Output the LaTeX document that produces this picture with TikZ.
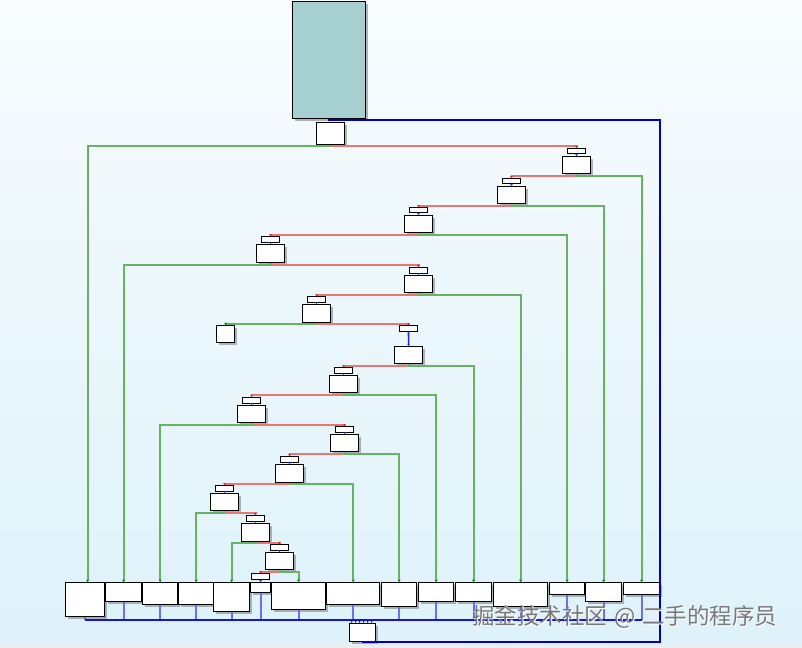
\documentclass[tikz,border=0pt]{standalone}
\usepackage{fontspec}
\newfontfamily\cjk{Noto Sans CJK SC}
\usetikzlibrary{shadows,arrows.meta,calc}
\definecolor{bgtop}{RGB}{248,252,254}
\definecolor{bgbot}{RGB}{222,242,250}
\definecolor{strip}{RGB}{236,239,241}
\definecolor{teal}{RGB}{165,207,208}
\definecolor{redE}{RGB}{232,118,118}
\definecolor{greenE}{RGB}{104,178,104}
\definecolor{blueS}{RGB}{40,40,200}
\definecolor{blueL}{RGB}{110,110,240}
\definecolor{blueD}{RGB}{20,20,220}
\definecolor{loopC}{RGB}{0,0,190}
\definecolor{wmgray}{RGB}{120,120,120}
\tikzset{
  box/.style={draw=black, fill=white, line width=1.3bp, inner sep=0pt, anchor=north west,
    drop shadow={shadow xshift=2.5bp, shadow yshift=-2.5bp, opacity=0.4, fill=black!70}},
  lbl/.style={draw=black, fill=white, line width=1bp, inner sep=0pt, anchor=north west,
    minimum width=18bp, minimum height=5.5bp},
  redline/.style={draw=redE, line width=2bp, -{Stealth[length=2bp,width=2.5bp,color=red!85!black]}},
  greenline/.style={draw=greenE, line width=2bp, -{Stealth[length=2.5bp,width=3bp,color=green!45!black]}},
  shortblue/.style={draw=blueS, line width=1.6bp, -{Stealth[length=2bp,width=2.5bp]}},
  outblue/.style={draw=blueL, line width=1.8bp},
  mergeblue/.style={draw=blueD, line width=2bp},
  loopline/.style={draw=loopC, line width=2bp},
  wm/.style={inner sep=0pt, anchor=west, font=\cjk\fontsize{22.5bp}{24bp}\selectfont}
}
\begin{document}
\begin{tikzpicture}[x=1bp, y=-1bp]
\useasboundingbox (0,0) rectangle (802,648);
\shade[top color=bgtop, bottom color=bgbot] (0,0) rectangle (802,643);
\fill[strip] (0,643) rectangle (802,648);

% top block
\node[box, fill=teal, minimum width=73bp, minimum height=117bp] (top) at (292,1) {};

% decision nodes
\node[box, minimum width=28bp, minimum height=22bp] (n0) at (316,122) {};
\node[box, minimum width=28bp, minimum height=17bp] (n1) at (562,156) {};
\node[box, minimum width=28bp, minimum height=17bp] (n2) at (497,186) {};
\node[box, minimum width=28bp, minimum height=17bp] (n3) at (404,215) {};
\node[box, minimum width=28bp, minimum height=18bp] (n4) at (256,244) {};
\node[box, minimum width=28bp, minimum height=17bp] (n5) at (404,275) {};
\node[box, minimum width=28bp, minimum height=18bp] (n6) at (302,304) {};
\node[box, minimum width=18bp, minimum height=17bp] (leaf) at (216,325) {};
\node[box, minimum width=28bp, minimum height=17bp] (n7) at (394,346) {};
\node[box, minimum width=28bp, minimum height=17bp] (n8) at (329,375) {};
\node[box, minimum width=28bp, minimum height=17bp] (n9) at (237,405) {};
\node[box, minimum width=28bp, minimum height=17bp] (n10) at (330,434) {};
\node[box, minimum width=28bp, minimum height=18bp] (n11) at (275,464) {};
\node[box, minimum width=28bp, minimum height=17bp] (n12) at (210,493) {};
\node[box, minimum width=28bp, minimum height=18bp] (n13) at (241,523) {};
\node[box, minimum width=28bp, minimum height=17bp] (n14) at (265,552) {};

% label boxes
\node[lbl] (l1) at (567,148) {};
\node[lbl] (l2) at (502,178) {};
\node[lbl] (l3) at (409,207) {};
\node[lbl] (l4) at (261,236) {};
\node[lbl] (l5) at (409,267) {};
\node[lbl] (l6) at (307,296) {};
\node[lbl] (l7) at (399,325) {};
\node[lbl] (l8) at (334,367) {};
\node[lbl] (l9) at (242,397) {};
\node[lbl] (l10) at (335,426) {};
\node[lbl] (l11) at (280,456) {};
\node[lbl] (l12) at (215,485) {};
\node[lbl] (l13) at (246,515) {};
\node[lbl] (l14) at (270,544) {};
\node[lbl] (l15) at (251,573) {};

% bottom row
\node[box, minimum width=39bp, minimum height=34bp] (b1) at (65,582) {};
\node[box, minimum width=36bp, minimum height=19bp] (b2) at (105,582) {};
\node[box, minimum width=35bp, minimum height=22bp] (b3) at (142,582) {};
\node[box, minimum width=35bp, minimum height=22bp] (b4) at (178,582) {};
\node[box, minimum width=36bp, minimum height=29bp] (b5) at (213,582) {};
\node[box, minimum width=20bp, minimum height=10bp] (b6) at (250,582) {};
\node[box, minimum width=54bp, minimum height=27bp] (b7) at (271,582) {};
\node[box, minimum width=53bp, minimum height=22bp] (b8) at (326,582) {};
\node[box, minimum width=35bp, minimum height=24bp] (b9) at (381,582) {};
\node[box, minimum width=35bp, minimum height=19bp] (b10) at (418,582) {};
\node[box, minimum width=36bp, minimum height=19bp] (b11) at (455,582) {};
\node[box, minimum width=54bp, minimum height=24bp] (b12) at (493,582) {};
\node[box, minimum width=35bp, minimum height=12bp] (b13) at (549,582) {};
\node[box, minimum width=36bp, minimum height=19bp] (b14) at (585,582) {};
\node[box, minimum width=36bp, minimum height=12bp] (b15) at (623,582) {};
\node[box, minimum width=26bp, minimum height=18bp] (exit) at (349,623) {};

% label -> node short edges
\foreach \i in {1,...,14} { \draw[shortblue] (l\i.south) -- (n\i.north); }
\draw[shortblue] (l15.south) -- (b6.north);

% red (taken) edges
\draw[redline] (n0.south) -- ++(0,1) -| (l1.north);
\draw[redline] (n1.south) -- ++(0,2) -| (l2.north);
\draw[redline] (n2.south) -- ++(0,2) -| (l3.north);
\draw[redline] (n3.south) -- ++(0,2) -| (l4.north);
\draw[redline] (n4.south) -- ++(0,2) -| (l5.north);
\draw[redline] (n5.south) -- ++(0,2) -| (l6.north);
\draw[redline] (n6.south) -- ++(0,1) -| (l7.north);
\draw[redline] (n7.south) -- ++(0,2) -| (l8.north);
\draw[redline] (n8.south) -- ++(0,2) -| (l9.north);
\draw[redline] (n9.south) -- ++(0,2) -| (l10.north);
\draw[redline] (n10.south) -- ++(0,2) -| (l11.north);
\draw[redline] (n11.south) -- ++(0,1) -| (l12.north);
\draw[redline] (n12.south) -- ++(0,2) -| (l13.north);
\draw[redline] (n13.south) -- ++(0,1) -| (l14.north);
\draw[redline] (n14.south) -- ++(0,2) -| (l15.north);

% green (fall-through) edges
\draw[greenline] (n0.south) -- ++(0,1) -| ([xshift=2.5bp]b1.north);
\draw[greenline] (n1.south) -- ++(0,2) -| (b15.north);
\draw[greenline] (n2.south) -- ++(0,2) -| (b14.north);
\draw[greenline] (n3.south) -- ++(0,2) -| (b13.north);
\draw[greenline] (n4.south) -- ++(0,2) -| (b2.north);
\draw[greenline] (n5.south) -- ++(0,2) -| (b12.north);
\draw[greenline] (n6.south) -- ++(0,1) -| (leaf.north);
\draw[greenline] (n7.south) -- ++(0,2) -| (b11.north);
\draw[greenline] (n8.south) -- ++(0,2) -| (b10.north);
\draw[greenline] (n9.south) -- ++(0,2) -| (b3.north);
\draw[greenline] (n10.south) -- ++(0,2) -| (b9.north);
\draw[greenline] (n11.south) -- ++(0,1) -| (b8.north);
\draw[greenline] (n12.south) -- ++(0,2) -| (b4.north);
\draw[greenline] (n13.south) -- ++(0,1) -| (b5.north);
\draw[greenline] (n14.south) -- ++(0,2) -| (b7.north);

% bottom edges to exit
\coordinate (mrg) at (362,620);
\foreach \b in {b1,b2,b3,b4,b5,b6,b7,b8,b9,b10,b11,b12,b13,b14,b15} {
  \draw[outblue] (\b.south) -- (\b.south |- mrg);
}
\draw[mergeblue] (b1.south |- mrg) -- (b15.south |- mrg);
\foreach \dx in {-11,-7,-3,1,5,9} {
  \draw[draw=blueD, line width=0.8bp, -{Stealth[length=3bp,width=2.5bp]}] ([xshift=\dx bp]exit.north) ++(0,-4) -- ([xshift=\dx bp]exit.north);
}

% long loop edge from top block
\coordinate (rc1) at (660,120);
\coordinate (rc2) at (660,642);
\draw[loopline] (top.south) |- (rc1) -- (rc2) -| (exit.south);

% watermark
\node[wm, text=white] (wmb) at (473,618.2) {掘金技术社区\hspace{7bp}@\hspace{7bp}二手的程序员};
\node[wm, text=wmgray] (wmt) at (472,617) {掘金技术社区\hspace{7bp}@\hspace{7bp}二手的程序员};
\end{tikzpicture}
\end{document}
